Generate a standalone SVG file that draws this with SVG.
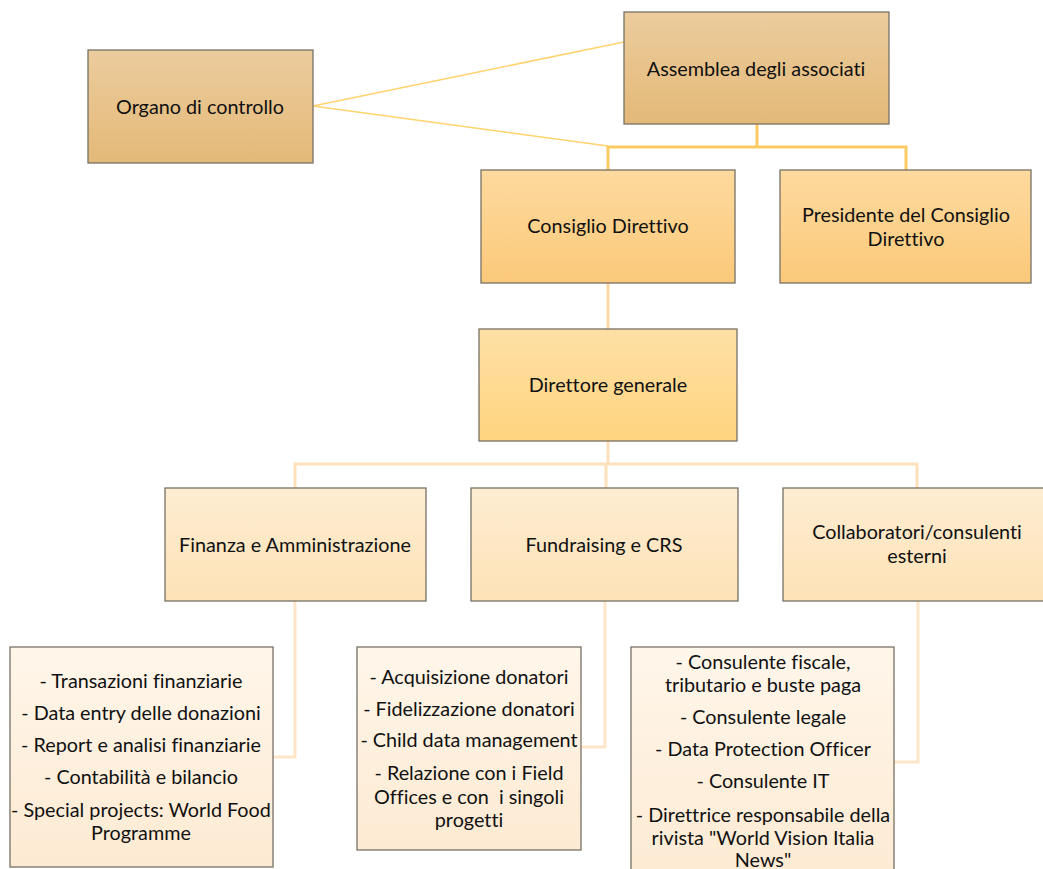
<svg xmlns="http://www.w3.org/2000/svg" width="1043" height="869" viewBox="0 0 1043 869">
<defs>
<linearGradient id="gTop" x1="0" y1="0" x2="0" y2="1"><stop offset="0" stop-color="#ECCC9D"/><stop offset="1" stop-color="#E3B978"/></linearGradient>
<linearGradient id="gMid" x1="0" y1="0" x2="0" y2="1"><stop offset="0" stop-color="#FDDA9E"/><stop offset="1" stop-color="#FBC97A"/></linearGradient>
<linearGradient id="gDir" x1="0" y1="0" x2="0" y2="1"><stop offset="0" stop-color="#FEE0A6"/><stop offset="1" stop-color="#FFD47F"/></linearGradient>
<linearGradient id="gDept" x1="0" y1="0" x2="0" y2="1"><stop offset="0" stop-color="#FEEDD2"/><stop offset="1" stop-color="#FDE2B6"/></linearGradient>
<linearGradient id="gList" x1="0" y1="0" x2="0" y2="1"><stop offset="0" stop-color="#FFF6EA"/><stop offset="1" stop-color="#FDEAD2"/></linearGradient>
</defs>
<style>
rect{stroke:#777166;stroke-width:1.3}
text{font-family:Lato,"Liberation Sans",sans-serif;font-size:19.8px;fill:#111;text-anchor:middle;font-variant-ligatures:none}
.c1{fill:none;stroke:#FFD46E;stroke-width:1.6}
.c2{fill:none;stroke:#FBCB62;stroke-width:3}
.c3{fill:none;stroke:#FCD7A2;stroke-width:3}
.c4{fill:none;stroke:#FDE1BB;stroke-width:3}
.c5{fill:none;stroke:#FDE6C8;stroke-width:3}
</style>
<g id="connectors">
<polyline class="c1" points="624,42 313,106 608,146"/>
<polyline class="c2" points="757,124 757,147"/>
<polyline class="c2" points="608,171 608,147 906,147 906,171"/>
<line class="c3" x1="608" y1="283" x2="608" y2="329"/>
<polyline class="c4" points="608,441 608,464"/>
<polyline class="c4" points="295,488 295,464 917,464 917,488"/>
<line class="c4" x1="606" y1="464" x2="606" y2="488"/>
<polyline class="c5" points="295,601 295,757 273,757"/>
<polyline class="c5" points="605,601 605,747 581,747"/>
<polyline class="c5" points="918,601 918,762 894,762"/>
</g>
<g id="organo"><rect x="88" y="50" width="225" height="113" fill="url(#gTop)"/><text x="200" y="114">Organo di controllo</text></g>
<g id="assemblea"><rect x="624" y="12" width="265" height="112" fill="url(#gTop)"/><text x="756" y="76">Assemblea degli associati</text></g>
<g id="consiglio"><rect x="481" y="170" width="254" height="113" fill="url(#gMid)"/><text x="608" y="233">Consiglio Direttivo</text></g>
<g id="presidente"><rect x="780" y="170" width="251" height="113" fill="url(#gMid)"/><text x="906" y="222">Presidente del Consiglio</text><text x="906" y="246">Direttivo</text></g>
<g id="direttore"><rect x="479" y="329" width="258" height="112" fill="url(#gDir)"/><text x="608" y="392">Direttore generale</text></g>
<g id="finanza"><rect x="165" y="488" width="261" height="113" fill="url(#gDept)"/><text x="295" y="552">Finanza e Amministrazione</text></g>
<g id="fundraising"><rect x="471" y="488" width="267" height="113" fill="url(#gDept)"/><text x="604" y="552">Fundraising e CRS</text></g>
<g id="collaboratori"><rect x="783" y="488" width="268" height="113" fill="url(#gDept)"/><text x="917" y="539">Collaboratori/consulenti</text><text x="917" y="563">esterni</text></g>
<g id="lista-finanza"><rect x="10" y="647" width="263" height="220" fill="url(#gList)"/>
<text x="141" y="688">- Transazioni finanziarie</text>
<text x="141" y="720">- Data entry delle donazioni</text>
<text x="141" y="752">- Report e analisi finanziarie</text>
<text x="141" y="784">- Contabilità e bilancio</text>
<text x="141" y="817">- Special projects: World Food</text>
<text x="141" y="840">Programme</text></g>
<g id="lista-fundraising"><rect x="357" y="647" width="224" height="203" fill="url(#gList)"/>
<text x="469" y="684">- Acquisizione donatori</text>
<text x="469" y="716">- Fidelizzazione donatori</text>
<text x="469" y="747">- Child data management</text>
<text x="469" y="780">- Relazione con i Field</text>
<text x="469" y="804" xml:space="preserve">Offices e con  i singoli</text>
<text x="469" y="827">progetti</text></g>
<g id="lista-collaboratori"><rect x="631" y="647" width="263" height="240" fill="url(#gList)"/>
<text x="763" y="669">- Consulente fiscale,</text>
<text x="763" y="692">tributario e buste paga</text>
<text x="763" y="724">- Consulente legale</text>
<text x="763" y="756">- Data Protection Officer</text>
<text x="763" y="788">- Consulente IT</text>
<text x="763" y="822">- Direttrice responsabile della</text>
<text x="763" y="845">rivista "World Vision Italia</text>
<text x="763" y="867">News"</text></g>
</svg>
